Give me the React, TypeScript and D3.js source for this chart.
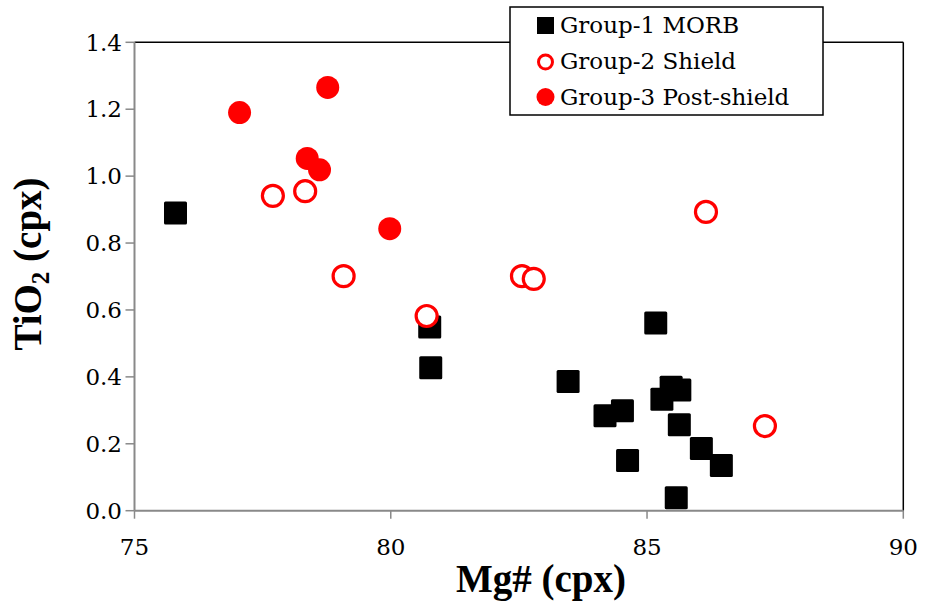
import React from "react";
import * as d3 from "d3";

const morbX = [75.8, 80.76, 80.78, 83.46, 85.17, 85.47, 85.64, 85.29, 84.52, 84.18, 85.63, 86.06, 86.45, 84.62, 85.57];
const morbY = [0.89, 0.549, 0.427, 0.386, 0.561, 0.369, 0.361, 0.333, 0.299, 0.284, 0.257, 0.186, 0.135, 0.15, 0.039];

const shieldX = [77.7, 78.33, 79.08, 80.7, 82.56, 82.79, 86.15, 87.3];
const shieldY = [0.941, 0.955, 0.701, 0.582, 0.701, 0.693, 0.893, 0.253];

const postX = [77.05, 78.77, 78.37, 78.61, 79.98];
const postY = [1.19, 1.265, 1.053, 1.019, 0.843];

const xTicks = [75, 80, 85, 90];
const yTicks = [0, 0.2, 0.4, 0.6, 0.8, 1.0, 1.2, 1.4];

const legendLabels = ["Group-1 MORB", "Group-2 Shield", "Group-3 Post-shield"];

const W = 926;
const H = 606;
const left = 134.5;
const right = 903.3;
const top = 42.3;
const bottom = 510.7;

export default function App() {
  const x = d3.scaleLinear().domain([75, 90]).range([left, right]);
  const y = d3.scaleLinear().domain([0, 1.4]).range([bottom, top]);
  const font = "'Liberation Serif', 'DejaVu Serif', serif";
  const font2 = "'DejaVu Serif', 'Liberation Serif', serif";
  const axisColor = "#898989";
  const red = "#ff0000";
  const sq = 23;

  return (
    <svg
      width={W}
      height={H}
      style={{ position: "fixed", left: 0, top: 0, background: "#fff" }}
      fontFamily={font}
    >
      <rect x={0} y={0} width={W} height={H} fill="#fff" />
      {/* plot border top/right */}
      <line x1={left} x2={right} y1={top} y2={top} stroke="#000" strokeWidth={1.5} />
      <line x1={right} x2={right} y1={top} y2={bottom} stroke="#000" strokeWidth={1.5} />
      {/* axes */}
      <line x1={left} x2={right} y1={bottom} y2={bottom} stroke={axisColor} strokeWidth={2} />
      <line x1={left} x2={left} y1={top} y2={bottom} stroke={axisColor} strokeWidth={2} />
      {xTicks.map((t) => (
        <g key={"xt" + t}>
          <line x1={x(t)} x2={x(t)} y1={bottom} y2={bottom + 8} stroke={axisColor} strokeWidth={1.5} />
          <text x={x(t)} y={555} textAnchor="middle" fontSize={23} fontFamily={font2} fill="#000">
            {t}
          </text>
        </g>
      ))}
      {yTicks.map((t) => (
        <g key={"yt" + t}>
          <line x1={left - 9} x2={left} y1={y(t)} y2={y(t)} stroke={axisColor} strokeWidth={1.5} />
          <text x={122} y={y(t)} dy="0.36em" textAnchor="end" fontSize={23} fontFamily={font2} fill="#000">
            {t.toFixed(1)}
          </text>
        </g>
      ))}
      {/* axis titles */}
      <text x={541} y={592} textAnchor="middle" fontSize={39} fontWeight="bold" fill="#000">
        Mg# (cpx)
      </text>
      <text
        transform={`translate(41, 264) rotate(-90)`}
        textAnchor="middle"
        fontSize={39}
        fontWeight="bold"
        fill="#000"
      >
        TiO<tspan fontSize={25} dy={8}>2</tspan>
        <tspan dy={-8}> (cpx)</tspan>
      </text>
      {/* data */}
      <g>
        {morbX.map((v, i) => (
          <rect
            key={"m" + i}
            x={x(v) - sq / 2}
            y={y(morbY[i]) - sq / 2}
            width={sq}
            height={sq}
            rx={1.5}
            fill="#000"
          />
        ))}
      </g>
      <g>
        {shieldX.map((v, i) => (
          <circle key={"s" + i} cx={x(v)} cy={y(shieldY[i])} r={10.5} fill="#fff" stroke={red} strokeWidth={3.2} />
        ))}
      </g>
      <g>
        {postX.map((v, i) => (
          <circle key={"p" + i} cx={x(v)} cy={y(postY[i])} r={11.5} fill={red} />
        ))}
      </g>
      {/* legend */}
      <g>
        <rect x={510} y={7} width={313} height={108} fill="#fff" stroke="#000" strokeWidth={1.5} />
        <rect x={537} y={17} width={17} height={17} fill="#000" />
        <circle cx={545.5} cy={62} r={7} fill="#fff" stroke={red} strokeWidth={3} />
        <circle cx={545.5} cy={97} r={9} fill={red} />
        {legendLabels.map((l, i) => (
          <text key={l} x={560} y={25 + i * 36} dy="0.36em" fontSize={23} fontFamily={font2} fill="#000">
            {l}
          </text>
        ))}
      </g>
    </svg>
  );
}
